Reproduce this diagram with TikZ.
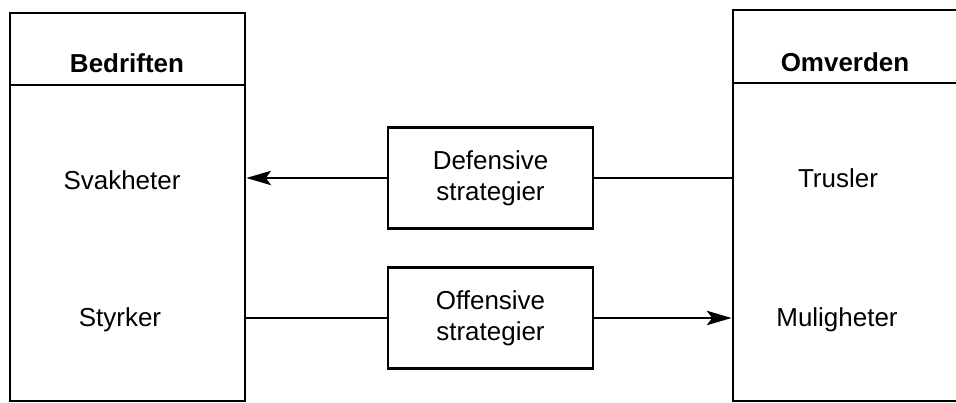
\documentclass[tikz,border=0pt]{standalone}
\usepackage{fontspec}
\setmainfont{Liberation Sans}
\usetikzlibrary{arrows.meta, positioning}

\begin{document}
\begin{tikzpicture}[x=0.385pt, y=-0.385pt, line width=1pt,
    side/.style={draw, rectangle, inner sep=0pt},
    strat/.style={draw, rectangle, minimum width=78.9pt, minimum height=38.9pt, align=center},
    tip/.style={-{Stealth[length=9.5pt, width=5.5pt, inset=2pt]}}]
    \useasboundingbox (0,0) rectangle (956,403);
    \clip (0,0) rectangle (956,403);

    % Draw the two side boxes
    \node[side, minimum width=90.5pt, minimum height=149.4pt]  (bedrift) at (127.5,207) {};
    \node[side, minimum width=99pt, minimum height=150.5pt]    (omverd)  at (861.5,205.5) {};
    \draw (bedrift.west |- 0,85) -- (bedrift.east |- 0,85);
    \draw (omverd.west |- 0,83) -- (omverd.east |- 0,83);

    % Texts in the side boxes
    \node[font=\bfseries] (bedtitle) at (127,63) {Bedriften};
    \node[font=\bfseries] (omtitle)  at (845,62) {Omverden};
    \node (svak)  at (122,180) {Svakheter};
    \node (styrk) at (120,320) {Styrker};
    \node (trus)  at (838,178) {Trusler};
    \node (mulig) at (837,320) {Muligheter};

    % Draw the strategies
    \node[strat] (def) at (490.5,178) {Defensive\\strategier};
    \node[strat] (off) at (490.5,318) {Offensive\\strategier};

    % Connect them
    \draw[tip] (def.west) -- (def.west -| bedrift.east);
    \draw (def.east) -- (def.east -| omverd.west);
    \draw (off.west) -- (off.west -| bedrift.east);
    \draw[tip] (off.east) -- (off.east -| omverd.west);
\end{tikzpicture}
\end{document}
